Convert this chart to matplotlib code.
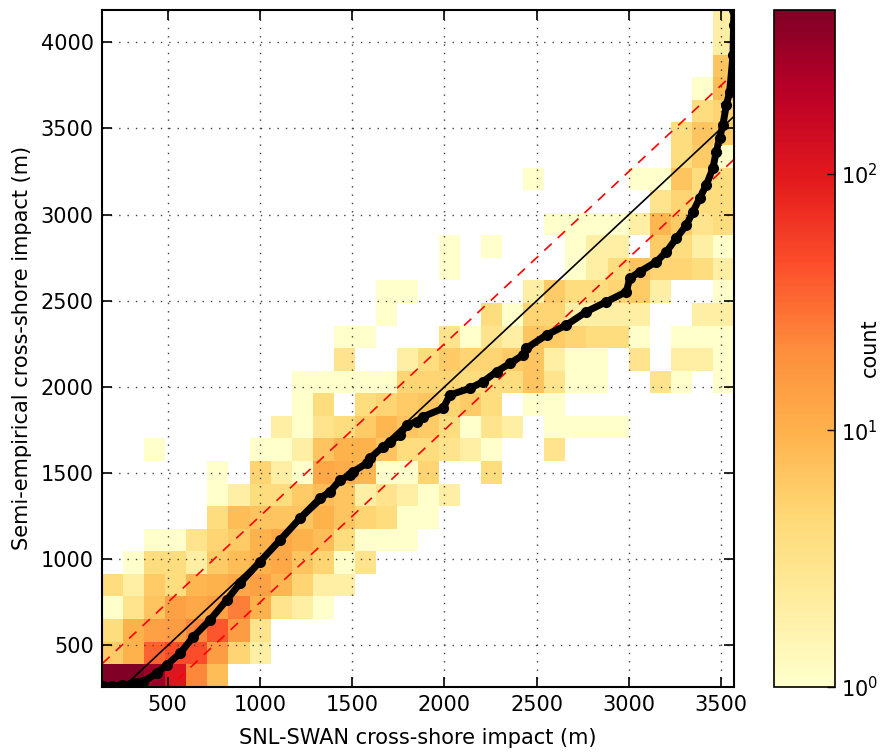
import numpy as np
import matplotlib
matplotlib.use('Agg')
import matplotlib.pyplot as plt
from matplotlib.colors import LogNorm

# histogram extent (data min/max) and bin count
x_lo, x_hi = 144.0, 3570.0
y_lo, y_hi = 261.0, 4190.0
n_bins = 30

# bin counts, top row (largest semi-empirical impact) first, 30 columns each
counts_top_down = [
    [0]*29 + [2],
    [0]*29 + [2],
    [0]*29 + [7],
    [0]*28 + [1, 8],
    [0]*28 + [4, 5],
    [0]*27 + [4, 7, 6],
    [0]*27 + [4, 6, 1],
    [0]*20 + [1, 0, 0, 0, 0, 1, 1, 7, 4, 4],
    [0]*26 + [3, 5, 4, 4],
    [0]*21 + [1, 1, 1, 1, 2, 9, 6, 3, 4],
    [0]*16 + [1, 0, 1, 0, 0, 0, 1, 2, 2, 0, 6, 4, 2, 1],
    [0]*16 + [1, 0, 0, 0, 0, 0, 1, 2, 4, 7, 5, 5, 4, 2],
    [0]*13 + [1, 1, 0, 0, 0, 0, 0, 2, 6, 4, 4, 5, 6, 2, 0, 0, 1],
    [0]*13 + [1, 0, 0, 0, 0, 4, 1, 5, 5, 2, 2, 2, 2, 0, 0, 2, 2],
    [0]*11 + [1, 1, 0, 0, 0, 3, 1, 3, 2, 7, 6, 5, 4, 4, 1, 0, 1, 1, 1],
    [0]*11 + [3, 0, 0, 2, 4, 6, 5, 5, 6, 7, 2, 1, 1, 0, 3, 0, 2, 2, 1],
    [0]*9 + [1, 1, 1, 1, 1, 5, 5, 5, 4, 4, 4, 7, 3, 1, 1, 0, 0, 3, 1, 0, 1],
    [0]*9 + [1, 4, 0, 4, 5, 6, 7, 5, 6, 4, 0, 1, 1, 0, 0, 0, 0, 0, 0, 0, 0],
    [0]*8 + [2, 1, 3, 4, 6, 9, 7, 6, 4, 1, 3, 2, 0, 1, 1, 1, 1, 0, 0, 0, 0, 0],
    [0, 0, 1, 0, 0, 0, 0, 1, 1, 2, 7, 10, 10, 7, 4, 4, 3, 2, 1, 0, 0, 3, 0, 0, 0, 0, 0, 0, 0, 0],
    [0, 0, 0, 0, 0, 1, 0, 5, 2, 1, 12, 11, 9, 1, 1, 5, 0, 0, 4, 0, 0, 0, 0, 0, 0, 0, 0, 0, 0, 0],
    [0, 0, 0, 0, 0, 1, 2, 4, 4, 6, 8, 7, 2, 3, 2, 1, 2, 0, 0, 0, 0, 0, 0, 0, 0, 0, 0, 0, 0, 0],
    [0, 0, 0, 0, 0, 4, 8, 7, 7, 7, 10, 7, 5, 4, 1, 1, 0, 0, 0, 0, 0, 0, 0, 0, 0, 0, 0, 0, 0, 0],
    [0, 0, 1, 1, 3, 5, 6, 10, 12, 10, 8, 4, 1, 1, 1, 0, 0, 0, 0, 0, 0, 0, 0, 0, 0, 0, 0, 0, 0, 0],
    [0, 1, 4, 4, 2, 6, 8, 10, 12, 7, 5, 1, 3, 0, 0, 0, 0, 0, 0, 0, 0, 0, 0, 0, 0, 0, 0, 0, 0, 0],
    [4, 2, 6, 4, 9, 10, 12, 14, 9, 5, 2, 2, 0, 0, 0, 0, 0, 0, 0, 0, 0, 0, 0, 0, 0, 0, 0, 0, 0, 0],
    [1, 3, 7, 14, 12, 14, 25, 10, 3, 2, 1, 0, 0, 0, 0, 0, 0, 0, 0, 0, 0, 0, 0, 0, 0, 0, 0, 0, 0, 0],
    [4, 10, 14, 15, 22, 40, 15, 3, 0, 0, 0, 0, 0, 0, 0, 0, 0, 0, 0, 0, 0, 0, 0, 0, 0, 0, 0, 0, 0, 0],
    [6, 10, 35, 45, 45, 15, 5, 2, 0, 0, 0, 0, 0, 0, 0, 0, 0, 0, 0, 0, 0, 0, 0, 0, 0, 0, 0, 0, 0, 0],
    [430, 437, 300, 110, 22, 8, 0, 0, 0, 0, 0, 0, 0, 0, 0, 0, 0, 0, 0, 0, 0, 0, 0, 0, 0, 0, 0, 0, 0, 0],
]

# sorted SNL-SWAN vs sorted semi-empirical values (quantile pairs)
qq_swan = [150, 200, 250, 296, 330, 368, 440, 495, 567, 639, 729, 820, 892, 1000,
           1109, 1217, 1325, 1379, 1434, 1488, 1506, 1578, 1596, 1668, 1705, 1759,
           1795, 1849, 1885, 1993, 2030, 2138, 2210, 2283, 2355, 2427, 2445, 2554,
           2662, 2770, 2879, 2987, 3005, 3059, 3150, 3204, 3258, 3312, 3348, 3384,
           3420, 3456, 3474, 3492, 3510, 3529, 3547, 3565, 3568, 3570]
qq_semi = [266, 267, 268, 272, 280, 290, 339, 387, 455, 551, 648, 764, 861, 986,
           1112, 1238, 1354, 1392, 1460, 1489, 1509, 1557, 1586, 1654, 1683, 1721,
           1779, 1799, 1828, 1876, 1954, 1992, 2031, 2089, 2137, 2186, 2225, 2302,
           2360, 2437, 2495, 2553, 2631, 2669, 2727, 2785, 2863, 2940, 3017, 3095,
           3172, 3269, 3365, 3443, 3520, 3636, 3713, 3926, 4100, 4190]

band = 250.0   # half-width of the dashed envelope around the 1:1 line

counts = np.flipud(np.array(counts_top_down, dtype=float))
xedges = np.linspace(x_lo, x_hi, n_bins + 1)
yedges = np.linspace(y_lo, y_hi, n_bins + 1)

plt.rcParams['font.family'] = ['DejaVu Sans']
plt.rcParams['font.size'] = 15

fig = plt.figure(figsize=(8.8, 7.54), dpi=100)
ax = fig.add_axes([0.116, 0.0893, 0.718, 0.898])
cax = fig.add_axes([0.879, 0.0893, 0.07, 0.898])

mesh = ax.pcolormesh(xedges, yedges, np.ma.masked_equal(counts, 0),
                     cmap='YlOrRd', norm=LogNorm(vmin=1, vmax=counts.max()))

line = np.array([0.0, 5000.0])
ax.plot(line, line, color='k', lw=1.2)
ax.plot(line, line + band, color='red', lw=1.2, dashes=(6, 5))
ax.plot(line, line - band, color='red', lw=1.2, dashes=(6, 5))
ax.plot(qq_swan, qq_semi, color='k', lw=5, marker='o', ms=7,
        markeredgecolor='k', solid_capstyle='round')

ax.set_xlim(x_lo, x_hi)
ax.set_ylim(y_lo, y_hi)
ax.set_xticks(np.arange(500, 3501, 500))
ax.set_yticks(np.arange(500, 4001, 500))
ax.grid(True, color='0.25', linestyle=(0, (1, 5)), lw=1.0)
ax.tick_params(direction='in', top=True, right=True, length=7, width=1.2,
               labelsize=15, pad=6)
for s in ax.spines.values():
    s.set_linewidth(1.5)
ax.set_xlabel('SNL-SWAN cross-shore impact (m)', fontsize=15, labelpad=9)
ax.set_ylabel('Semi-empirical cross-shore impact (m)', fontsize=15, labelpad=6)

cb = fig.colorbar(mesh, cax=cax)
cb.set_ticks([1, 10, 100])
cb.ax.minorticks_off()
cb.ax.tick_params(direction='in', length=6, width=1.0, labelsize=15, pad=4)
cb.outline.set_linewidth(1.2)
cb.set_label('count', fontsize=15)
cb.ax.yaxis.set_label_coords(1.4, 0.5)

fig.savefig('out.png', dpi=100, facecolor='white')
